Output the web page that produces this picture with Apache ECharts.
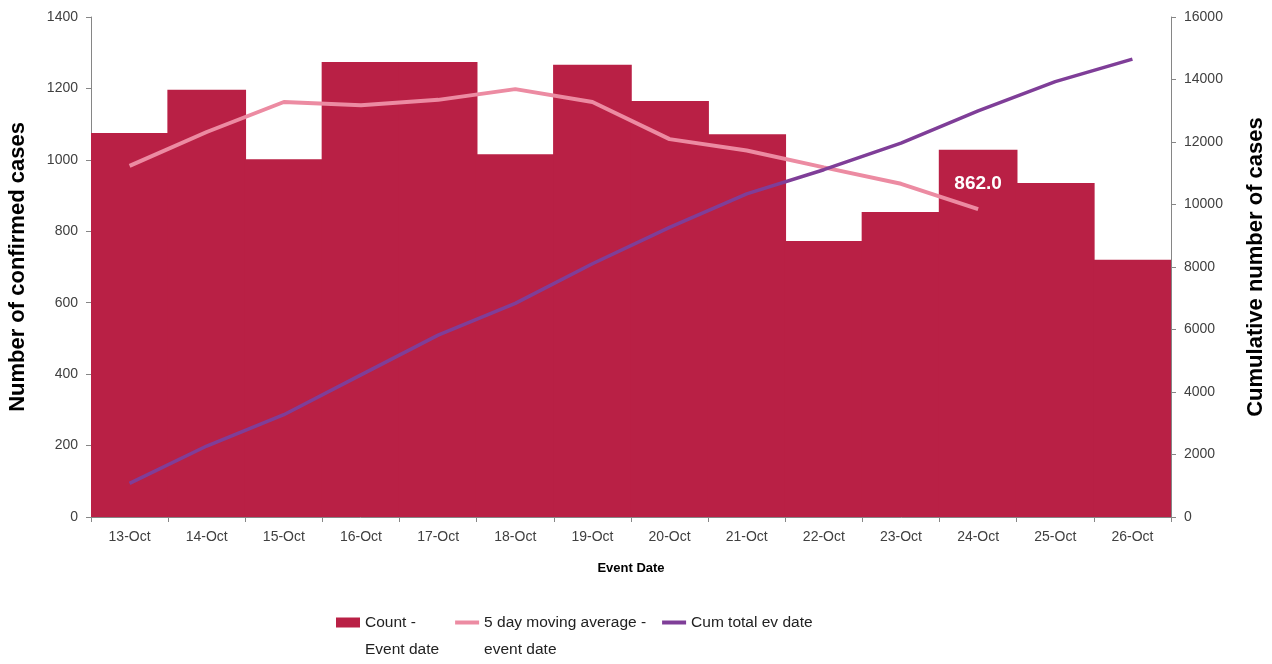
<!DOCTYPE html>
<html><head><meta charset="utf-8">
<script src="https://cdn.jsdelivr.net/npm/echarts@6/dist/echarts.min.js"></script>
<style>html,body{margin:0;padding:0;background:#fff}#c{width:1272px;height:664px}</style>
</head><body><div id="c"></div>
<script>
const categories = ['13-Oct','14-Oct','15-Oct','16-Oct','17-Oct','18-Oct','19-Oct','20-Oct','21-Oct','22-Oct','23-Oct','24-Oct','25-Oct','26-Oct'];
const countValues = [1075, 1196, 1002, 1274, 1274, 1016, 1266, 1165, 1072, 773, 854, 1028, 935, 720];
const movingAvgValues = [983, 1078, 1162, 1153, 1168, 1198, 1162, 1058, 1026, 979, 933, 862, null, null];
const cumValues = [1075, 2271, 3273, 4547, 5821, 6837, 8103, 9268, 10340, 11113, 11967, 12995, 13930, 14650];
const leftTicks = {min: 0, max: 1400, interval: 200};
const rightTicks = {min: 0, max: 16000, interval: 2000};

const FONT = '"Liberation Sans",Arial,sans-serif';
const chart = echarts.init(document.getElementById('c'));
const axisLineStyle = {lineStyle: {color: '#868686', width: 1}};
const tickStyle = {show: true, length: 5, lineStyle: {color: '#868686'}};
const tickLabel = {fontFamily: FONT, fontSize: 14, color: '#404040', margin: 13, formatter: v => String(v)};
const lineIcon = 'path://M0,0H24V4H0Z';
chart.setOption({
  animation: false,
  textStyle: {fontFamily: FONT},
  grid: {left: 91, right: 101, top: 17, bottom: 147, outerBoundsMode: 'none', containLabel: false},
  legend: {
    top: 582, left: 336, padding: 0,
    itemWidth: 24, itemHeight: 10, itemGap: 16, itemTextGap: 2,
    textStyle: {fontFamily: FONT, fontSize: 15.5, color: '#222', lineHeight: 27},
    formatter: name => name.indexOf('\n') >= 0 ? ' \n' + name : name,
    data: [
      {name: 'Count -\nEvent date', icon: 'rect'},
      {name: '5 day moving average -\nevent date', icon: lineIcon},
      {name: 'Cum total ev date', icon: lineIcon}
    ]
  },
  xAxis: {
    type: 'category', data: categories,
    name: 'Event Date', nameLocation: 'middle', nameGap: 45,
    nameTextStyle: {fontFamily: FONT, fontSize: 13, fontWeight: 'bold', color: '#000'},
    axisLine: axisLineStyle,
    axisTick: tickStyle,
    splitLine: {show: false},
    axisLabel: {fontFamily: FONT, fontSize: 14, color: '#404040', margin: 13}
  },
  yAxis: [
    {
      type: 'value', ...leftTicks,
      name: 'Number of confirmed cases', nameLocation: 'middle', nameGap: 62,
      nameTextStyle: {fontFamily: FONT, fontSize: 22, fontWeight: 'bold', color: '#000'},
      axisLine: {show: true, ...axisLineStyle},
      axisTick: tickStyle,
      axisLabel: tickLabel,
      splitLine: {show: false}
    },
    {
      type: 'value', ...rightTicks,
      name: 'Cumulative number of cases', nameLocation: 'middle', nameGap: 74,
      nameTextStyle: {fontFamily: FONT, fontSize: 22, fontWeight: 'bold', color: '#000'},
      axisLine: {show: true, ...axisLineStyle},
      axisTick: tickStyle,
      axisLabel: tickLabel,
      splitLine: {show: false}
    }
  ],
  series: [
    {
      name: 'Count -\nEvent date', type: 'bar', data: countValues,
      barWidth: '102%', itemStyle: {color: '#B92045'}
    },
    {
      name: '5 day moving average -\nevent date', type: 'line', data: movingAvgValues,
      symbol: 'circle', symbolSize: 0, showSymbol: true,
      lineStyle: {color: '#EC8BA2', width: 4}, itemStyle: {color: '#EC8BA2'},
      label: {
        show: true, position: 'top', distance: 16,
        formatter: p => p.dataIndex === 11 ? Number(p.value).toFixed(1) : '',
        color: '#fff', fontWeight: 'bold', fontSize: 19, fontFamily: FONT
      },
      z: 3
    },
    {
      name: 'Cum total ev date', type: 'line', yAxisIndex: 1, data: cumValues,
      symbol: 'none', lineStyle: {color: '#7F3E98', width: 3.5}, itemStyle: {color: '#7F3E98'},
      z: 4
    }
  ]
});
</script></body></html>
